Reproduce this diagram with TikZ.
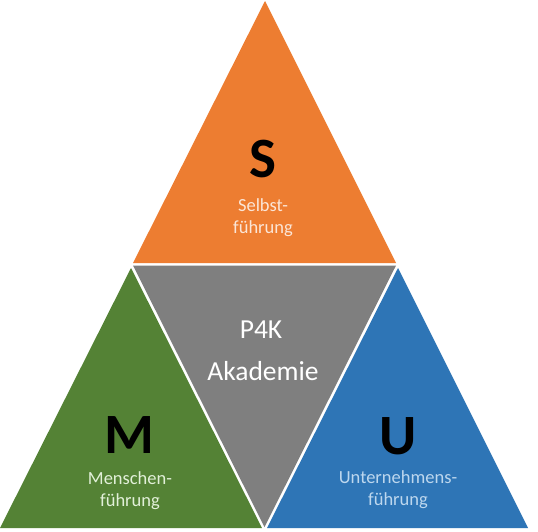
\documentclass[tikz,border=0pt]{standalone}
\usepackage{fontspec}
\setmainfont{Carlito}
\usetikzlibrary{positioning}

\definecolor{selbstorange}{HTML}{ED7D31}
\definecolor{akagrey}{HTML}{7F7F7F}
\definecolor{menschgreen}{HTML}{548235}
\definecolor{unternblue}{HTML}{2E75B6}
\definecolor{selbsttext}{HTML}{FBE5D6}
\definecolor{menschtext}{HTML}{E2F0D9}
\definecolor{unterntext}{HTML}{BDD7EE}

\tikzset{
  letter/.style={font=\fontsize{57}{57}\selectfont\bfseries, text=black, anchor=base, inner sep=0pt},
  subtext/.style={font=\fontsize{18.5}{21.5}\selectfont, align=center, anchor=base, inner sep=0pt},
  akatext/.style={font=\fontsize{27.5}{30}\selectfont, text=white, anchor=base, inner sep=0pt}
}

\begin{document}
\begin{tikzpicture}[x=1pt, y={(0pt,-1pt)}]
    \useasboundingbox (0,0) rectangle (538,531);
    \fill[white] (0,0) rectangle (538,531);

    % Triangles
    \fill[selbstorange] (265,1) -- (133,263) -- (396,263) -- cycle;
    \fill[akagrey] (133,265.5) -- (396,265.5) -- (264.5,527) -- cycle;
    \fill[menschgreen] (131,268) -- (0,528) -- (262,528) -- cycle;
    \fill[unternblue] (398,268) -- (267,528) -- (528,528) -- cycle;

    % Selbstfuehrung
    \node[letter] (s) at (263,177) {S};
    \node[subtext, text=selbsttext] (stext) at (263,233) {Selbst-\\führung};

    % Akademie
    \node[akatext] (p4k) at (261,338) {P4K};
    \node[akatext] (aka) at (263,380) {Akademie};

    % Menschenfuehrung
    \node[letter] (m) at (129,453) {M};
    \node[subtext, text=menschtext] (mtext) at (130,506) {Menschen-\\führung};

    % Unternehmensfuehrung
    \node[letter] (u) at (398,454) {U};
    \node[subtext, text=unterntext] (utext) at (398,505) {Unternehmens-\\führung};
\end{tikzpicture}
\end{document}
